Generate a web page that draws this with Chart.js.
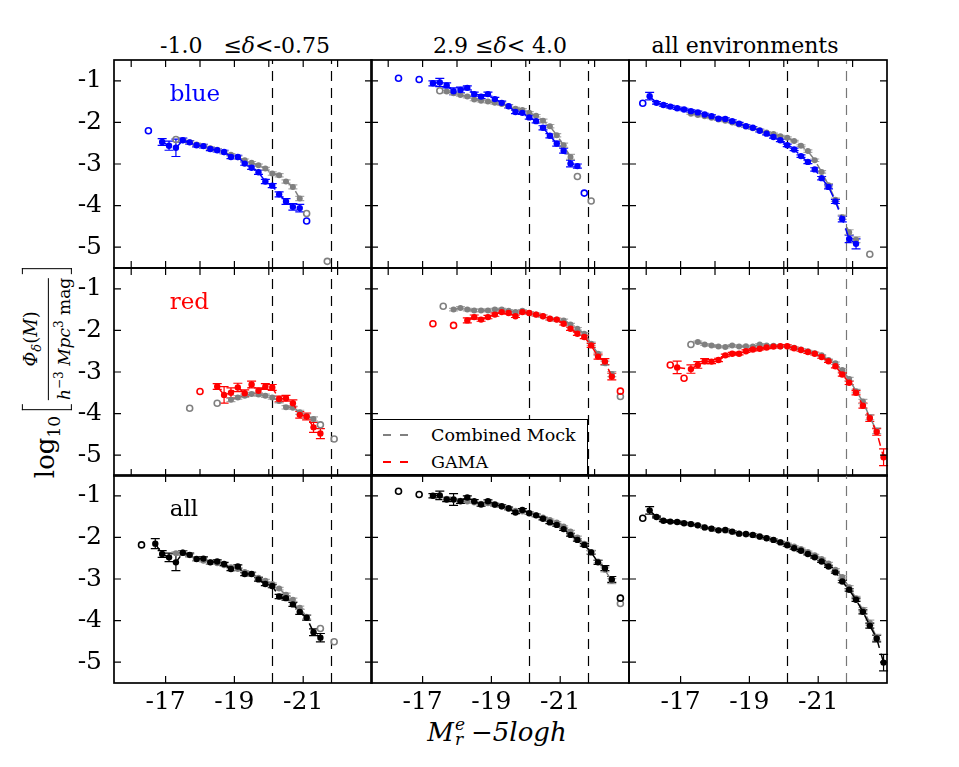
<!DOCTYPE html>
<html>
<head>
<meta charset="utf-8">
<script src="https://cdn.jsdelivr.net/npm/chart.js@4/dist/chart.umd.min.js"></script>
<style>
  body { margin: 0; background: #fff; font-family: "DejaVu Serif", serif; color: #000; }
  #page { position: relative; width: 959px; height: 767px; overflow: hidden; }
  canvas { position: absolute; }
  .title { position: absolute; top: 35px; font-size: 22px; line-height: 22px; white-space: nowrap; transform: translateX(-50%); }
  #xlab { position: absolute; left: 497px; top: 717px; font-size: 26px; font-style: italic; white-space: nowrap; transform: translateX(-50%); display: flex; align-items: center; }
  .ss { display: inline-flex; flex-direction: column; font-size: 17px; line-height: 15px; margin: 0 6px 0 1px; }
  #ylab { position: absolute; left: 47px; top: 373px; transform: translate(-50%, -50%) rotate(-90deg); white-space: nowrap; display: flex; align-items: center; }
  .brk { display: inline-block; width: 6px; height: 50px; border: 1.5px solid #000; box-sizing: border-box; }
  .brk.l { border-right: none; margin: 0 4px 0 6px; }
  .brk.r { border-left: none; margin-left: 4px; }
  .frac { display: inline-flex; flex-direction: column; align-items: center; font-size: 18px; line-height: 21px; }
  .frac .den { border-top: 1.2px solid #000; font-size: 17px; }
  #legend { position: absolute; left: 372px; top: 419px; width: 216px; height: 56px; background: #fff; border: 1.5px solid #000; box-sizing: border-box; font-size: 17.5px; }
  .lrow { position: absolute; left: 0; height: 20px; display: flex; align-items: center; }
  .samp { width: 26px; height: 2px; margin: 0 22px 0 10px; }
</style>
</head>
<body>
<div id="page">
  <div class="title" style="left:245px">-1.0 &nbsp;&nbsp;≤<i>δ</i>&lt;-0.75</div>
  <div class="title" style="left:500px">2.9 ≤<i>δ</i>&lt; 4.0</div>
  <div class="title" style="left:745px">all environments</div>
  <div id="xlab"><span>M</span><span class="ss"><span>e</span><span>r</span></span><span>−5logh</span></div>
  <div id="ylab">
    <span style="font-size:26px">log<sub style="font-size:17px">10</sub></span>
    <span class="brk l"></span>
    <span class="frac"><span><i>Φ</i><sub style="font-size:13px"><i>δ</i></sub>(<i>M</i>)</span><span class="den"><i>h</i><sup style="font-size:12px">−3</sup> <i>Mpc</i><sup style="font-size:12px">3</sup> mag</span></span>
    <span class="brk r"></span>
  </div>
</div>
<script>
// ---- data: magnitude bins (M_r - 5 log h) and log10 Phi ----
// blue, -1.0 <= delta < -0.75
const blueLoMag = [-16.9,-17.1,-17.3,-17.5,-17.7,-17.9,-18.1,-18.3,-18.5,-18.7,-18.9,-19.1,-19.3,-19.5,-19.7,-19.9,-20.1,-20.3,-20.5,-20.7,-20.9];
const blueLoPhi = [-2.47,-2.56,-2.61,-2.43,-2.48,-2.55,-2.57,-2.64,-2.67,-2.71,-2.83,-2.83,-2.99,-3.09,-3.20,-3.42,-3.52,-3.73,-3.90,-4.03,-4.06];
const blueLoErr = [0.08,0.11,0.21,0.05,0.04,0.04,0.04,0.04,0.04,0.04,0.04,0.04,0.04,0.04,0.05,0.05,0.05,0.06,0.07,0.08,0.09];
const blueLoOpenMag = [-16.5,-21.1];
const blueLoOpenPhi = [-2.20,-4.37];
const mockBlueLoMag = [-17.5,-17.7,-17.9,-18.1,-18.3,-18.5,-18.7,-18.9,-19.1,-19.3,-19.5,-19.7,-19.9,-20.1,-20.3,-20.5,-20.7,-20.9];
const mockBlueLoPhi = [-2.43,-2.48,-2.53,-2.57,-2.62,-2.66,-2.72,-2.78,-2.84,-2.91,-2.97,-3.03,-3.11,-3.23,-3.27,-3.42,-3.55,-3.83];
const mockBlueLoErr = [0.03,0.03,0.03,0.03,0.03,0.03,0.03,0.03,0.03,0.03,0.03,0.03,0.03,0.04,0.04,0.04,0.05,0.05];
const mockBlueLoOpenMag = [-17.3,-21.1,-21.7];
const mockBlueLoOpenPhi = [-2.41,-4.19,-5.34];

// blue, 2.9 <= delta < 4.0
const blueHiMag = [-17.3,-17.5,-17.7,-17.9,-18.1,-18.3,-18.5,-18.7,-18.9,-19.1,-19.3,-19.5,-19.7,-19.9,-20.1,-20.3,-20.5,-20.7,-20.9,-21.1,-21.3,-21.5];
const blueHiPhi = [-1.06,-1.04,-1.11,-1.25,-1.22,-1.17,-1.32,-1.38,-1.32,-1.44,-1.53,-1.61,-1.75,-1.77,-1.88,-1.97,-2.13,-2.32,-2.51,-2.68,-2.99,-3.05];
const blueHiErr = [0.06,0.10,0.06,0.08,0.07,0.05,0.05,0.05,0.05,0.04,0.04,0.04,0.04,0.04,0.04,0.04,0.05,0.05,0.06,0.06,0.08,0.05];
const blueHiOpenMag = [-16.3,-16.9,-21.7];
const blueHiOpenPhi = [-0.94,-0.97,-3.70];
const mockBlueHiMag = [-17.7,-17.9,-18.1,-18.3,-18.5,-18.7,-18.9,-19.1,-19.3,-19.5,-19.7,-19.9,-20.1,-20.3,-20.5,-20.7,-20.9,-21.1,-21.3];
const mockBlueHiPhi = [-1.26,-1.30,-1.34,-1.38,-1.45,-1.48,-1.50,-1.53,-1.56,-1.61,-1.67,-1.70,-1.77,-1.84,-1.96,-2.09,-2.31,-2.55,-2.83];
const mockBlueHiErr = [0.03,0.03,0.03,0.03,0.03,0.03,0.03,0.03,0.03,0.03,0.03,0.03,0.03,0.03,0.04,0.04,0.04,0.05,0.06];
const mockBlueHiOpenMag = [-17.5,-21.5,-21.9];
const mockBlueHiOpenPhi = [-1.24,-3.30,-3.89];

// blue, all environments
const blueAllMag = [-16.1,-16.3,-16.5,-16.7,-16.9,-17.1,-17.3,-17.5,-17.7,-17.9,-18.1,-18.3,-18.5,-18.7,-18.9,-19.1,-19.3,-19.5,-19.7,-19.9,-20.1,-20.3,-20.5,-20.7,-20.9,-21.1,-21.3,-21.5,-21.7,-21.9,-22.1];
const blueAllPhi = [-1.37,-1.53,-1.58,-1.62,-1.66,-1.69,-1.73,-1.76,-1.81,-1.85,-1.91,-1.92,-1.97,-2.03,-2.09,-2.13,-2.20,-2.27,-2.35,-2.43,-2.55,-2.65,-2.81,-2.95,-3.13,-3.34,-3.55,-3.90,-4.32,-4.80,-4.92];
const blueAllErr = [0.09,0.03,0.03,0.03,0.03,0.03,0.03,0.03,0.03,0.03,0.03,0.03,0.03,0.03,0.03,0.03,0.03,0.03,0.03,0.03,0.03,0.03,0.03,0.04,0.04,0.04,0.05,0.05,0.07,0.09,0.12];
const blueAllOpenMag = [-15.9];
const blueAllOpenPhi = [-1.54];
const mockBlueAllMag = [-17.3,-17.5,-17.7,-17.9,-18.1,-18.3,-18.5,-18.7,-18.9,-19.1,-19.3,-19.5,-19.7,-19.9,-20.1,-20.3,-20.5,-20.7,-20.9,-21.1,-21.3,-21.5,-21.7,-21.9,-22.1];
const mockBlueAllPhi = [-1.79,-1.82,-1.85,-1.89,-1.93,-1.96,-2.00,-2.05,-2.10,-2.14,-2.19,-2.24,-2.28,-2.33,-2.37,-2.45,-2.56,-2.69,-2.91,-3.19,-3.51,-3.86,-4.28,-4.64,-4.82];
const mockBlueAllErr = [0.02,0.02,0.02,0.02,0.02,0.02,0.02,0.02,0.02,0.02,0.02,0.02,0.02,0.02,0.02,0.02,0.02,0.03,0.03,0.03,0.04,0.04,0.05,0.06,0.07];
const mockBlueAllOpenMag = [-22.5];
const mockBlueAllOpenPhi = [-5.17];

// red, -1.0 <= delta < -0.75
const redLoMag = [-18.5,-18.7,-18.9,-19.1,-19.3,-19.5,-19.7,-19.9,-20.1,-20.3,-20.5,-20.7,-20.9,-21.1,-21.3,-21.5];
const redLoPhi = [-3.35,-3.55,-3.50,-3.37,-3.51,-3.30,-3.45,-3.35,-3.37,-3.65,-3.63,-3.75,-4.03,-4.07,-4.33,-4.48];
const redLoErr = [0.07,0.20,0.12,0.10,0.08,0.08,0.07,0.07,0.07,0.07,0.07,0.08,0.08,0.08,0.12,0.12];
const redLoOpenMag = [-18.0];
const redLoOpenPhi = [-3.47];
const mockRedLoMag = [-18.9,-19.1,-19.3,-19.5,-19.7,-19.9,-20.1,-20.3,-20.5,-20.7,-20.9,-21.1,-21.3];
const mockRedLoPhi = [-3.67,-3.61,-3.57,-3.53,-3.54,-3.57,-3.61,-3.70,-3.85,-3.86,-3.97,-4.06,-4.13];
const mockRedLoErr = [0.04,0.04,0.04,0.04,0.04,0.04,0.04,0.04,0.04,0.04,0.05,0.05,0.05];
const mockRedLoOpenMag = [-17.7,-18.5,-21.5,-21.9];
const mockRedLoOpenPhi = [-3.87,-3.75,-4.27,-4.61];

// red, 2.9 <= delta < 4.0
const redHiMag = [-18.3,-18.5,-18.7,-18.9,-19.1,-19.3,-19.5,-19.7,-19.9,-20.1,-20.3,-20.5,-20.7,-20.9,-21.1,-21.3,-21.5,-21.7,-21.9,-22.1,-22.3,-22.5];
const redHiPhi = [-1.76,-1.68,-1.74,-1.68,-1.62,-1.56,-1.58,-1.66,-1.56,-1.58,-1.62,-1.66,-1.72,-1.74,-1.84,-1.96,-2.08,-2.16,-2.36,-2.63,-2.75,-3.11];
const redHiErr = [0.06,0.05,0.04,0.04,0.04,0.03,0.03,0.03,0.03,0.03,0.03,0.03,0.03,0.03,0.03,0.04,0.04,0.04,0.05,0.06,0.07,0.08];
const redHiOpenMag = [-17.3,-17.9,-22.75];
const redHiOpenPhi = [-1.84,-1.88,-3.46];
const mockRedHiMag = [-17.9,-18.1,-18.3,-18.5,-18.7,-18.9,-19.1,-19.3,-19.5,-19.7,-19.9,-20.1,-20.3,-20.5,-20.7,-20.9,-21.1,-21.3,-21.5,-21.7,-21.9,-22.1,-22.3,-22.5];
const mockRedHiPhi = [-1.50,-1.46,-1.50,-1.52,-1.52,-1.52,-1.50,-1.50,-1.53,-1.56,-1.53,-1.58,-1.62,-1.66,-1.72,-1.74,-1.76,-1.86,-1.96,-2.08,-2.32,-2.56,-2.79,-3.05];
const mockRedHiErr = [0.03,0.03,0.03,0.03,0.03,0.03,0.03,0.03,0.03,0.03,0.03,0.03,0.03,0.03,0.03,0.03,0.03,0.03,0.03,0.03,0.04,0.04,0.05,0.06];
const mockRedHiOpenMag = [-17.6,-22.75];
const mockRedHiOpenPhi = [-1.42,-3.59];

// red, all environments
const redAllMag = [-16.9,-17.3,-17.5,-17.7,-17.9,-18.1,-18.3,-18.5,-18.7,-18.9,-19.1,-19.3,-19.5,-19.7,-19.9,-20.1,-20.3,-20.5,-20.7,-20.9,-21.1,-21.3,-21.5,-21.7,-21.9,-22.1,-22.3,-22.5,-22.7,-22.9];
const redAllPhi = [-2.89,-2.93,-2.83,-2.74,-2.75,-2.71,-2.60,-2.56,-2.56,-2.50,-2.46,-2.44,-2.41,-2.39,-2.38,-2.38,-2.43,-2.47,-2.52,-2.56,-2.64,-2.74,-2.86,-3.06,-3.26,-3.50,-3.81,-4.11,-4.44,-5.05];
const redAllErr = [0.15,0.10,0.08,0.06,0.05,0.04,0.03,0.03,0.03,0.03,0.03,0.03,0.03,0.03,0.03,0.03,0.03,0.03,0.03,0.03,0.03,0.03,0.04,0.04,0.04,0.05,0.06,0.08,0.08,0.20];
const redAllOpenMag = [-16.7,-17.1];
const redAllOpenPhi = [-2.83,-3.15];
const mockRedAllMag = [-17.5,-17.7,-17.9,-18.1,-18.3,-18.5,-18.7,-18.9,-19.1,-19.3,-19.5,-19.7,-19.9,-20.1,-20.3,-20.5,-20.7,-20.9,-21.1,-21.3,-21.5,-21.7,-21.9,-22.1,-22.3,-22.5,-22.7];
const mockRedAllPhi = [-2.28,-2.34,-2.36,-2.39,-2.40,-2.36,-2.39,-2.38,-2.39,-2.34,-2.36,-2.37,-2.39,-2.39,-2.42,-2.46,-2.50,-2.55,-2.60,-2.71,-2.79,-2.95,-3.17,-3.46,-3.71,-4.09,-4.41];
const mockRedAllErr = [0.02,0.02,0.02,0.02,0.02,0.02,0.02,0.02,0.02,0.02,0.02,0.02,0.02,0.02,0.02,0.02,0.02,0.02,0.02,0.02,0.03,0.03,0.04,0.04,0.05,0.06,0.07];
const mockRedAllOpenMag = [-17.3];
const mockRedAllOpenPhi = [-2.34];

// all galaxies, -1.0 <= delta < -0.75
const allLoMag = [-16.7,-16.9,-17.1,-17.3,-17.5,-17.7,-17.9,-18.1,-18.3,-18.5,-18.7,-18.9,-19.1,-19.3,-19.5,-19.7,-19.9,-20.1,-20.3,-20.5,-20.7,-20.9,-21.1,-21.3,-21.5];
const allLoPhi = [-2.15,-2.40,-2.48,-2.60,-2.37,-2.42,-2.52,-2.51,-2.60,-2.58,-2.64,-2.76,-2.70,-2.88,-2.88,-3.01,-3.12,-3.17,-3.42,-3.46,-3.61,-3.79,-3.93,-4.28,-4.41];
const allLoErr = [0.12,0.08,0.10,0.20,0.05,0.04,0.04,0.04,0.04,0.04,0.04,0.04,0.04,0.04,0.04,0.04,0.04,0.04,0.05,0.05,0.05,0.06,0.06,0.08,0.10];
const allLoOpenMag = [-16.3];
const allLoOpenPhi = [-2.18];
const mockAllLoMag = [-17.3,-17.5,-17.7,-17.9,-18.1,-18.3,-18.5,-18.7,-18.9,-19.1,-19.3,-19.5,-19.7,-19.9,-20.1,-20.3,-20.5,-20.7,-20.9,-21.1];
const mockAllLoPhi = [-2.38,-2.36,-2.43,-2.52,-2.56,-2.60,-2.62,-2.67,-2.72,-2.76,-2.83,-2.88,-2.97,-3.04,-3.12,-3.23,-3.38,-3.50,-3.69,-3.91];
const mockAllLoErr = [0.03,0.03,0.03,0.03,0.03,0.03,0.03,0.03,0.03,0.03,0.03,0.03,0.03,0.03,0.03,0.03,0.04,0.04,0.04,0.05];
const mockAllLoOpenMag = [-21.5,-21.9];
const mockAllLoOpenPhi = [-4.19,-4.51];

// all galaxies, 2.9 <= delta < 4.0
const allHiMag = [-17.3,-17.5,-17.7,-17.9,-18.1,-18.3,-18.5,-18.7,-18.9,-19.1,-19.3,-19.5,-19.7,-19.9,-20.1,-20.3,-20.5,-20.7,-20.9,-21.1,-21.3,-21.5,-21.7,-21.9,-22.1,-22.3,-22.5];
const allHiPhi = [-1.00,-0.99,-1.09,-1.09,-1.13,-1.04,-1.13,-1.21,-1.13,-1.21,-1.25,-1.30,-1.40,-1.34,-1.42,-1.47,-1.55,-1.64,-1.70,-1.80,-1.94,-2.06,-2.18,-2.36,-2.60,-2.74,-3.01];
const allHiErr = [0.05,0.10,0.05,0.14,0.05,0.04,0.04,0.04,0.03,0.03,0.03,0.03,0.03,0.03,0.03,0.03,0.03,0.03,0.03,0.03,0.03,0.03,0.03,0.04,0.05,0.06,0.07];
const allHiOpenMag = [-16.3,-16.9,-22.75];
const allHiOpenPhi = [-0.89,-0.97,-3.46];
const mockAllHiMag = [-17.7,-17.9,-18.1,-18.3,-18.5,-18.7,-18.9,-19.1,-19.3,-19.5,-19.7,-19.9,-20.1,-20.3,-20.5,-20.7,-20.9,-21.1,-21.3,-21.5,-21.7,-21.9,-22.1,-22.3,-22.5];
const mockAllHiPhi = [-1.07,-1.09,-1.12,-1.14,-1.16,-1.19,-1.18,-1.22,-1.26,-1.32,-1.36,-1.38,-1.42,-1.47,-1.52,-1.58,-1.64,-1.74,-1.86,-2.00,-2.15,-2.35,-2.58,-2.78,-3.05];
const mockAllHiErr = [0.02,0.02,0.02,0.02,0.02,0.02,0.02,0.02,0.02,0.02,0.02,0.02,0.02,0.02,0.02,0.02,0.02,0.02,0.03,0.03,0.03,0.04,0.04,0.05,0.06];
const mockAllHiOpenMag = [-22.75];
const mockAllHiOpenPhi = [-3.59];

// all galaxies, all environments
const allAllMag = [-16.1,-16.3,-16.5,-16.7,-16.9,-17.1,-17.3,-17.5,-17.7,-17.9,-18.1,-18.3,-18.5,-18.7,-18.9,-19.1,-19.3,-19.5,-19.7,-19.9,-20.1,-20.3,-20.5,-20.7,-20.9,-21.1,-21.3,-21.5,-21.7,-21.9,-22.1,-22.3,-22.5,-22.7,-22.9];
const allAllPhi = [-1.35,-1.51,-1.60,-1.62,-1.63,-1.66,-1.68,-1.71,-1.76,-1.79,-1.83,-1.82,-1.86,-1.91,-1.92,-1.94,-1.98,-2.02,-2.06,-2.12,-2.19,-2.26,-2.32,-2.40,-2.48,-2.58,-2.70,-2.84,-3.06,-3.26,-3.50,-3.79,-4.12,-4.43,-5.01];
const allAllErr = [0.09,0.02,0.02,0.02,0.02,0.02,0.02,0.02,0.02,0.02,0.02,0.02,0.02,0.02,0.02,0.02,0.02,0.02,0.02,0.02,0.02,0.02,0.02,0.02,0.02,0.02,0.02,0.02,0.03,0.03,0.04,0.05,0.06,0.08,0.20];
const allAllOpenMag = [-15.9];
const allAllOpenPhi = [-1.54];
const mockAllAllMag = [-17.3,-17.5,-17.7,-17.9,-18.1,-18.3,-18.5,-18.7,-18.9,-19.1,-19.3,-19.5,-19.7,-19.9,-20.1,-20.3,-20.5,-20.7,-20.9,-21.1,-21.3,-21.5,-21.7,-21.9,-22.1,-22.3,-22.5,-22.7];
const mockAllAllPhi = [-1.68,-1.71,-1.76,-1.79,-1.83,-1.84,-1.87,-1.91,-1.93,-1.95,-1.99,-2.02,-2.06,-2.11,-2.16,-2.22,-2.28,-2.35,-2.43,-2.52,-2.63,-2.78,-2.95,-3.20,-3.46,-3.74,-4.05,-4.40];
const mockAllAllErr = [0.02,0.02,0.02,0.02,0.02,0.02,0.02,0.02,0.02,0.02,0.02,0.02,0.02,0.02,0.02,0.02,0.02,0.02,0.02,0.02,0.03,0.03,0.03,0.04,0.04,0.05,0.06,0.07];

// vertical reference magnitudes and ticks
const LIMITS = [-20.1, -21.8];
const Y_TICKS = [-1, -2, -3, -4, -5];
const X_TICKS_MINOR = [-16, -17, -18, -19, -20, -21, -22];
const X_TICKS_LABELLED = [-17, -19, -21];
const TITLE_LABELS = ['blue', 'red', 'all'];

const BLUE = '#0000ff', RED = '#ff0000', BLACK = '#000000', GREY = '#808080';

const PANELS = [
  { row: 0, col: 0, color: BLUE, main: [blueLoMag, blueLoPhi, blueLoErr], open: [blueLoOpenMag, blueLoOpenPhi], mock: [mockBlueLoMag, mockBlueLoPhi, mockBlueLoErr], mockOpen: [mockBlueLoOpenMag, mockBlueLoOpenPhi] },
  { row: 0, col: 1, color: BLUE, main: [blueHiMag, blueHiPhi, blueHiErr], open: [blueHiOpenMag, blueHiOpenPhi], mock: [mockBlueHiMag, mockBlueHiPhi, mockBlueHiErr], mockOpen: [mockBlueHiOpenMag, mockBlueHiOpenPhi] },
  { row: 0, col: 2, color: BLUE, main: [blueAllMag, blueAllPhi, blueAllErr], open: [blueAllOpenMag, blueAllOpenPhi], mock: [mockBlueAllMag, mockBlueAllPhi, mockBlueAllErr], mockOpen: [mockBlueAllOpenMag, mockBlueAllOpenPhi] },
  { row: 1, col: 0, color: RED, main: [redLoMag, redLoPhi, redLoErr], open: [redLoOpenMag, redLoOpenPhi], mock: [mockRedLoMag, mockRedLoPhi, mockRedLoErr], mockOpen: [mockRedLoOpenMag, mockRedLoOpenPhi] },
  { row: 1, col: 1, color: RED, main: [redHiMag, redHiPhi, redHiErr], open: [redHiOpenMag, redHiOpenPhi], mock: [mockRedHiMag, mockRedHiPhi, mockRedHiErr], mockOpen: [mockRedHiOpenMag, mockRedHiOpenPhi] },
  { row: 1, col: 2, color: RED, main: [redAllMag, redAllPhi, redAllErr], open: [redAllOpenMag, redAllOpenPhi], mock: [mockRedAllMag, mockRedAllPhi, mockRedAllErr], mockOpen: [mockRedAllOpenMag, mockRedAllOpenPhi] },
  { row: 2, col: 0, color: BLACK, main: [allLoMag, allLoPhi, allLoErr], open: [allLoOpenMag, allLoOpenPhi], mock: [mockAllLoMag, mockAllLoPhi, mockAllLoErr], mockOpen: [mockAllLoOpenMag, mockAllLoOpenPhi] },
  { row: 2, col: 1, color: BLACK, main: [allHiMag, allHiPhi, allHiErr], open: [allHiOpenMag, allHiOpenPhi], mock: [mockAllHiMag, mockAllHiPhi, mockAllHiErr], mockOpen: [mockAllHiOpenMag, mockAllHiOpenPhi] },
  { row: 2, col: 2, color: BLACK, main: [allAllMag, allAllPhi, allAllErr], open: [allAllOpenMag, allAllOpenPhi], mock: [mockAllAllMag, mockAllAllPhi, mockAllAllErr], mockOpen: [[], []] }
];

// ---- layout ----
const COL_LEFT = [114, 371, 629];
const ROW_TOP = [60, 268, 475];
const PW = 258, PH = 208;
const PAD_L = 70, PAD_R = 10, PAD_T = 10, PAD_B = 40;
const CAP = 4.5;

const pts = (mags, vals) => mags.map((m, i) => ({ x: m, y: vals[i] }));

// frame, inward ticks, reference lines, error bars, panel label
const deco = {
  id: 'deco',
  beforeDatasetsDraw(chart, args, o) {
    const { ctx, chartArea: a } = chart;
    const x = chart.scales.x, y = chart.scales.y;
    ctx.save();
    ctx.lineWidth = 1.2;
    ctx.setLineDash([10, 7]);
    LIMITS.forEach((m, k) => {
      ctx.strokeStyle = (o.col === 2 && k === 1) ? '#777' : '#000';
      const px = Math.round(x.getPixelForValue(m)) + 0.5;
      ctx.beginPath(); ctx.moveTo(px, a.bottom); ctx.lineTo(px, a.top); ctx.stroke();
    });
    ctx.setLineDash([]);
    chart.data.datasets.forEach(ds => {
      if (!ds.errors) return;
      ctx.strokeStyle = ds.errColor;
      ctx.lineWidth = 1.2;
      ds.data.forEach((d, j) => {
        const e = ds.errors[j];
        const px = x.getPixelForValue(d.x);
        const t = y.getPixelForValue(d.y + e), b = y.getPixelForValue(d.y - e);
        ctx.beginPath();
        ctx.moveTo(px, t); ctx.lineTo(px, b);
        ctx.moveTo(px - CAP, t); ctx.lineTo(px + CAP, t);
        ctx.moveTo(px - CAP, b); ctx.lineTo(px + CAP, b);
        ctx.stroke();
      });
    });
    ctx.restore();
  },
  afterDraw(chart, args, o) {
    const { ctx, chartArea: a } = chart;
    const x = chart.scales.x, y = chart.scales.y;
    ctx.save();
    ctx.strokeStyle = '#000';
    ctx.lineWidth = 1.2;
    const TL = 7;
    ctx.beginPath();
    (o.row === 2 ? X_TICKS_LABELLED : X_TICKS_MINOR).forEach(v => {
      const px = x.getPixelForValue(v);
      ctx.moveTo(px, a.bottom); ctx.lineTo(px, a.bottom - TL);
      ctx.moveTo(px, a.top); ctx.lineTo(px, a.top + TL);
    });
    Y_TICKS.forEach(v => {
      const py = y.getPixelForValue(v);
      ctx.moveTo(a.left, py); ctx.lineTo(a.left + TL, py);
      ctx.moveTo(a.right, py); ctx.lineTo(a.right - TL, py);
    });
    ctx.stroke();
    ctx.lineWidth = 1.7;
    ctx.strokeRect(a.left, a.top, a.right - a.left, a.bottom - a.top);
    if (o.col === 0) {
      ctx.fillStyle = o.color;
      ctx.font = '23px "DejaVu Serif"';
      ctx.textBaseline = 'alphabetic';
      ctx.fillText(TITLE_LABELS[o.row], x.getPixelForValue(-17.12), y.getPixelForValue(-1.49));
    }
    ctx.restore();
  }
};

const page = document.getElementById('page');

PANELS.forEach(p => {
  const cv = document.createElement('canvas');
  cv.width = PW + PAD_L + PAD_R;
  cv.height = PH + PAD_T + PAD_B;
  cv.style.left = (COL_LEFT[p.col] - PAD_L) + 'px';
  cv.style.top = (ROW_TOP[p.row] - PAD_T) + 'px';
  page.appendChild(cv);

  const datasets = [
    { data: pts(p.main[0], p.main[1]), errors: p.main[2], errColor: p.color,
      showLine: true, borderColor: p.color, borderWidth: 1.5, borderDash: [8, 6],
      pointRadius: 3.2, pointBackgroundColor: p.color, pointBorderColor: p.color, pointBorderWidth: 0 },
    { data: pts(p.open[0], p.open[1]), showLine: false,
      pointRadius: 3, pointBackgroundColor: 'rgba(0,0,0,0)', pointBorderColor: p.color, pointBorderWidth: 1.6 },
    { data: pts(p.mock[0], p.mock[1]), errors: p.mock[2], errColor: '#a8a8a8',
      showLine: true, borderColor: GREY, borderWidth: 1.5, borderDash: [8, 6],
      pointRadius: 3, pointBackgroundColor: GREY, pointBorderColor: GREY, pointBorderWidth: 0 },
    { data: pts(p.mockOpen[0], p.mockOpen[1]), showLine: false,
      pointRadius: 3, pointBackgroundColor: 'rgba(0,0,0,0)', pointBorderColor: GREY, pointBorderWidth: 1.6 }
  ];

  new Chart(cv, {
    type: 'scatter',
    data: { datasets },
    options: {
      responsive: false,
      animation: false,
      events: [],
      layout: { padding: { top: PAD_T, right: PAD_R, left: 0, bottom: 0 } },
      plugins: {
        legend: { display: false },
        tooltip: { enabled: false },
        deco: { row: p.row, col: p.col, color: p.color }
      },
      scales: {
        x: {
          type: 'linear', reverse: true, min: -23, max: -15.5,
          grid: { display: false, drawTicks: false }, border: { display: false },
          ticks: { display: p.row === 2, color: '#000', padding: 4, font: { family: 'DejaVu Serif', size: 25 }, callback: v => String(v) },
          afterBuildTicks: s => { s.ticks = X_TICKS_LABELLED.map(v => ({ value: v })); },
          afterFit: s => { s.height = PAD_B; s.paddingLeft = 0; s.paddingRight = 0; }
        },
        y: {
          type: 'linear', min: -5.5, max: -0.5,
          grid: { display: false, drawTicks: false }, border: { display: false },
          ticks: { display: p.col === 0, color: '#000', padding: 12, font: { family: 'DejaVu Serif', size: 25 }, callback: v => String(v) },
          afterBuildTicks: s => { s.ticks = Y_TICKS.map(v => ({ value: v })); },
          afterFit: s => { s.width = PAD_L; s.paddingTop = 0; s.paddingBottom = 0; }
        }
      }
    },
    plugins: [deco]
  });
});
</script>
<div id="legend" style="position:absolute;">
  <div class="lrow" style="top:5px"><span class="samp" style="background:repeating-linear-gradient(to right,#808080 0 8px,transparent 8px 17px)"></span>Combined Mock</div>
  <div class="lrow" style="top:32px"><span class="samp" style="background:repeating-linear-gradient(to right,#ff0000 0 8px,transparent 8px 17px)"></span>GAMA</div>
</div>
</body>
</html>
